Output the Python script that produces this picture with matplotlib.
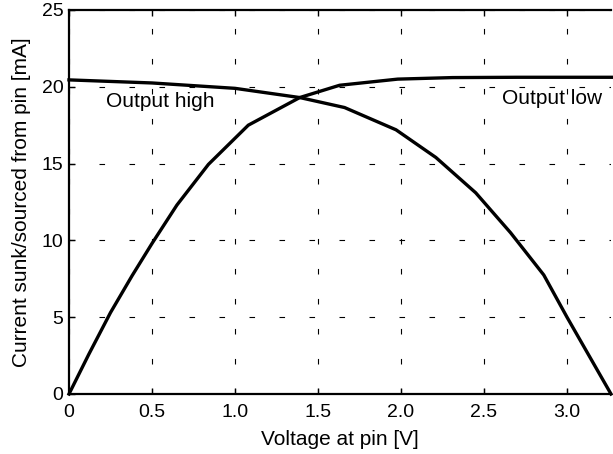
import matplotlib
matplotlib.use("Agg")
import matplotlib.pyplot as plt

plt.rcParams['font.family'] = ['Liberation Sans', 'DejaVu Sans']
plt.rcParams['lines.scale_dashes'] = False

# Output low (current sunk) curve
low_v = [0.0, 0.12, 0.25, 0.38, 0.50, 0.65, 0.84, 1.08, 1.39, 1.63, 1.98, 2.31, 2.70, 3.27]
low_i = [0.0, 2.6, 5.3, 7.7, 9.8, 12.3, 14.95, 17.5, 19.3, 20.1, 20.5, 20.6, 20.62, 20.62]

# Output high (current sourced) curve
high_v = [0.0, 0.5, 1.0, 1.39, 1.66, 1.97, 2.21, 2.45, 2.66, 2.86, 3.0, 3.265]
high_i = [20.45, 20.25, 19.9, 19.3, 18.65, 17.2, 15.4, 13.1, 10.5, 7.75, 5.0, 0.0]

xticks = [0, 0.5, 1.0, 1.5, 2.0, 2.5, 3.0]
xtick_labels = ['0', '0.5', '1.0', '1.5', '2.0', '2.5', '3.0']
yticks = [0, 5, 10, 15, 20, 25]

fig = plt.figure(figsize=(6.13, 4.54), dpi=100)
ax = fig.add_axes([69/613, 60/454, (611-69)/613, (394-10)/454])

ax.plot(low_v, low_i, color='black', lw=2.4, solid_joinstyle='miter', clip_on=False, zorder=3)
ax.plot(high_v, high_i, color='black', lw=2.4, solid_joinstyle='miter', clip_on=False, zorder=3)

ax.set_xlim(0, 3.265)
ax.set_ylim(0, 25)
ax.set_xticks(xticks)
ax.set_xticklabels(xtick_labels)
ax.set_yticks(yticks)

ax.grid(True, color='black', lw=0.8, linestyle=(0, (4.0, 17.6)))
ax.set_axisbelow(True)

for s in ['left', 'bottom', 'top']:
    ax.spines[s].set_linewidth(1.6)
ax.spines['right'].set_visible(False)

ax.tick_params(direction='in', length=4, width=1.0, top=True, right=False,
               labelsize=14)
ax.tick_params(axis='x', pad=7)
ax.tick_params(axis='y', pad=4)

ax.text(0.22, 19.05, 'Output high', fontsize=15, va='center', ha='left')
ax.text(2.61, 19.25, 'Output low', fontsize=15, va='center', ha='left')

ax.set_xlabel('Voltage at pin [V]', fontsize=15, labelpad=7)
ax.set_ylabel('Current sunk/sourced from pin [mA]', fontsize=15, labelpad=8)

fig.savefig('out.png', dpi=100)
